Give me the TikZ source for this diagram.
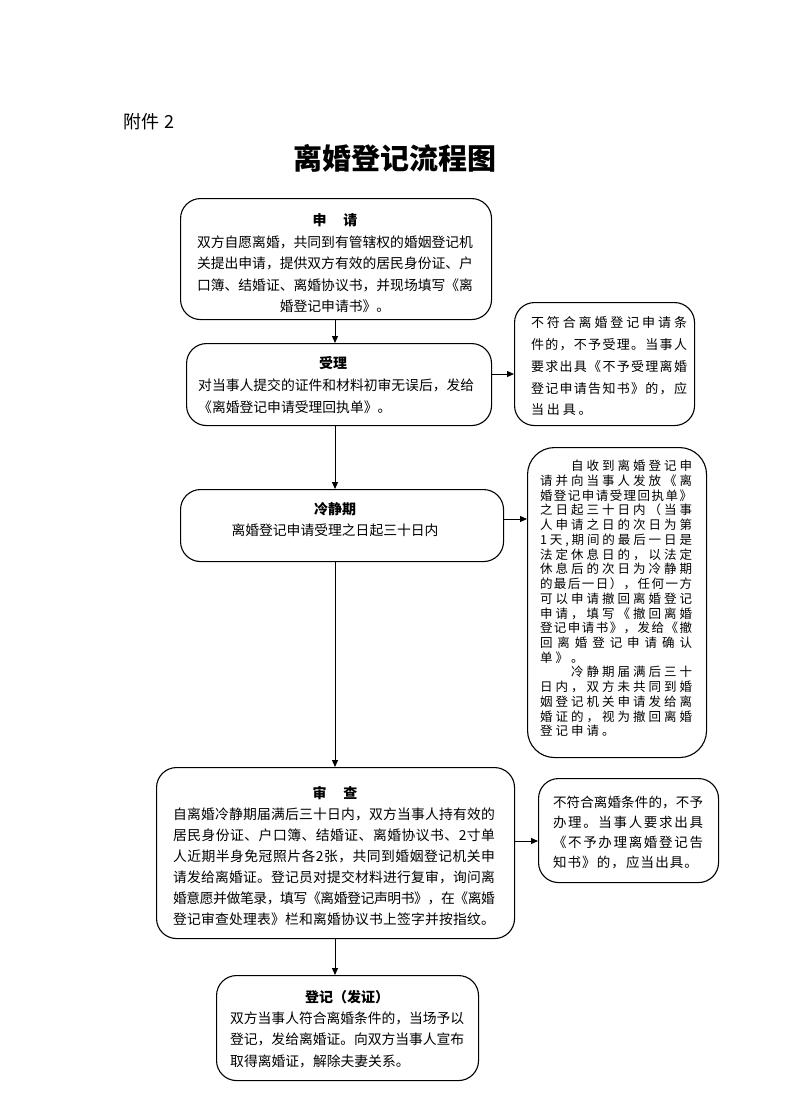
\documentclass[tikz,border=0pt]{standalone}
\usepackage{fontspec}
\setmainfont{Noto Sans CJK SC}
\usetikzlibrary{arrows.meta}
\ExplSyntaxOn
\NewDocumentCommand\jl{mm}{\hbox_to_wd:nn {#1}{\tl_map_inline:nn {#2}{##1\hss}\unskip}}
\NewDocumentCommand\gl{mm}{\hbox:n{\tl_map_inline:nn {#2}{\hbox_to_wd:nn {#1}{##1\hss}}}}
\ExplSyntaxOff
\begin{document}
\begin{tikzpicture}[x=1pt,y=-1pt,
  box/.style={draw, line width=1.1pt, rounded corners=20pt, inner sep=0pt, anchor=north west},
  head/.style={font=\fontsize{14pt}{16pt}\selectfont\bfseries, inner sep=0pt},
  body/.style={inner sep=0pt},
  arr/.style={line width=1pt, -{Triangle[length=7pt,width=6pt]}}]
\useasboundingbox (0,0) rectangle (792,1120);

\node[font=\fontsize{18pt}{20pt}\selectfont] (annex) at (149,122) {附件 2};
\node[font=\fontsize{29pt}{32pt}\selectfont\bfseries] (title) at (395,158) {离婚登记流程图};

% boxes
\node[box, minimum width=311pt, minimum height=121pt] (apply) at (180,198) {};
\node[box, minimum width=305pt, minimum height=82pt] (accept) at (186,343) {};
\node[box, minimum width=180pt, minimum height=123pt] (rej1) at (514,302) {};
\node[box, minimum width=323pt, minimum height=72pt] (cool) at (180,489) {};
\node[box, rounded corners=27pt, minimum width=179pt, minimum height=310pt] (note) at (527,447) {};
\node[box, minimum width=358pt, minimum height=171pt] (review) at (156,767) {};
\node[box, minimum width=180pt, minimum height=104pt] (rej2) at (538,778) {};
\node[box, minimum width=262pt, minimum height=105pt] (reg) at (216,975) {};

% texts
\node[head] (applyh) at (335,220) {申\hspace{1.2em}请};
\node[body, align=center, font=\fontsize{13.8pt}{21.5pt}\selectfont] (applyb) at (335,274.25) {%
\jl{276pt}{双方自愿离婚，共同到有管辖权的婚姻登记机}\\
\jl{276pt}{关提出申请，提供双方有效的居民身份证、户}\\
\jl{276pt}{口簿、结婚证、离婚协议书，并现场填写《离}\\
婚登记申请书》。};

\node[head] (accepth) at (333,363) {受理};
\node[body, align=left, anchor=west, font=\fontsize{13.8pt}{22pt}\selectfont] (acceptb) at (198,396) {%
\jl{276pt}{对当事人提交的证件和材料初审无误后，发给}\\
《离婚登记申请受理回执单》。};

\node[body, align=left, font=\fontsize{13pt}{21.75pt}\selectfont] (rej1b) at (609,366.5) {%
\jl{156pt}{不符合离婚登记申请条}\\
\jl{156pt}{件的，不予受理。当事人}\\
\jl{156pt}{要求出具《不予受理离婚}\\
\jl{156pt}{登记申请告知书》的，应}\\
\gl{15.9pt}{当出具。}};

\node[head] (coolh) at (335,509) {冷静期};
\node[body, font=\fontsize{13.8pt}{16pt}\selectfont] (coolb) at (335,530) {离婚登记申请受理之日起三十日内};

\node[body, align=left, font=\fontsize{12.5pt}{14.72pt}\selectfont] (noteb) at (616,598.5) {%
\jl{152pt}{　　自收到离婚登记申}\\
\jl{152pt}{请并向当事人发放《离}\\
\jl{152pt}{婚登记申请受理回执单》}\\
\jl{152pt}{之日起三十日内（当事}\\
\jl{152pt}{人申请之日的次日为第}\\
\jl{152pt}{1天,期间的最后一日是}\\
\jl{152pt}{法定休息日的，以法定}\\
\jl{152pt}{休息后的次日为冷静期}\\
\jl{152pt}{的最后一日），任何一方}\\
\jl{152pt}{可以申请撤回离婚登记}\\
\jl{152pt}{申请，填写《撤回离婚}\\
\jl{152pt}{登记申请书》，发给《撤}\\
\jl{152pt}{回离婚登记申请确认}\\
\gl{15.5pt}{单》。}\\
\jl{152pt}{　　冷静期届满后三十}\\
\jl{152pt}{日内，双方未共同到婚}\\
\jl{152pt}{姻登记机关申请发给离}\\
\jl{152pt}{婚证的，视为撤回离婚}\\
\gl{15.5pt}{登记申请。}};

\node[head] (reviewh) at (335,793) {审\hspace{1.2em}查};
\node[body, align=left, font=\fontsize{13.8pt}{21pt}\selectfont] (reviewb) at (334,866.5) {%
\jl{322pt}{自离婚冷静期届满后三十日内，双方当事人持有效的}\\
\jl{322pt}{居民身份证、户口簿、结婚证、离婚协议书、2寸单}\\
\jl{322pt}{人近期半身免冠照片各2张，共同到婚姻登记机关申}\\
\jl{322pt}{请发给离婚证。登记员对提交材料进行复审，询问离}\\
\jl{322pt}{婚意愿并做笔录，填写《离婚登记声明书》，在《离婚}\\
\jl{322pt}{登记审查处理表》栏和离婚协议书上签字并按指纹。}};

\node[body, align=left, font=\fontsize{13.5pt}{20pt}\selectfont] (rej2b) at (628,832) {%
\jl{150pt}{不符合离婚条件的，不予}\\
\jl{150pt}{办理。当事人要求出具}\\
\jl{150pt}{《不予办理离婚登记告}\\
\jl{145pt}{知书》的，应当出具。}};

\node[head] (regh) at (347,997) {登记（发证）};
\node[body, align=left, anchor=west, font=\fontsize{13.8pt}{21.5pt}\selectfont] (regb) at (230,1039.5) {%
\jl{234pt}{双方当事人符合离婚条件的，当场予以}\\
\jl{234pt}{登记，发给离婚证。向双方当事人宣布}\\
取得离婚证，解除夫妻关系。};

% connectors
\coordinate (axis) at (335,0);
\draw[arr] (apply.south -| axis) -- (accept.north -| axis);
\draw[arr] (accept.south -| axis) -- (cool.north -| axis);
\draw[arr] (cool.south -| axis) -- (review.north -| axis);
\draw[arr] (review.south -| axis) -- (reg.north -| axis);
\coordinate (h1) at (0,374);
\coordinate (h2) at (0,519);
\coordinate (h3) at (0,841);
\draw[arr] (accept.east |- h1) -- (rej1.west |- h1);
\draw[arr] (cool.east |- h2) -- (note.west |- h2);
\draw[arr] (review.east |- h3) -- (rej2.west |- h3);
\end{tikzpicture}
\end{document}
